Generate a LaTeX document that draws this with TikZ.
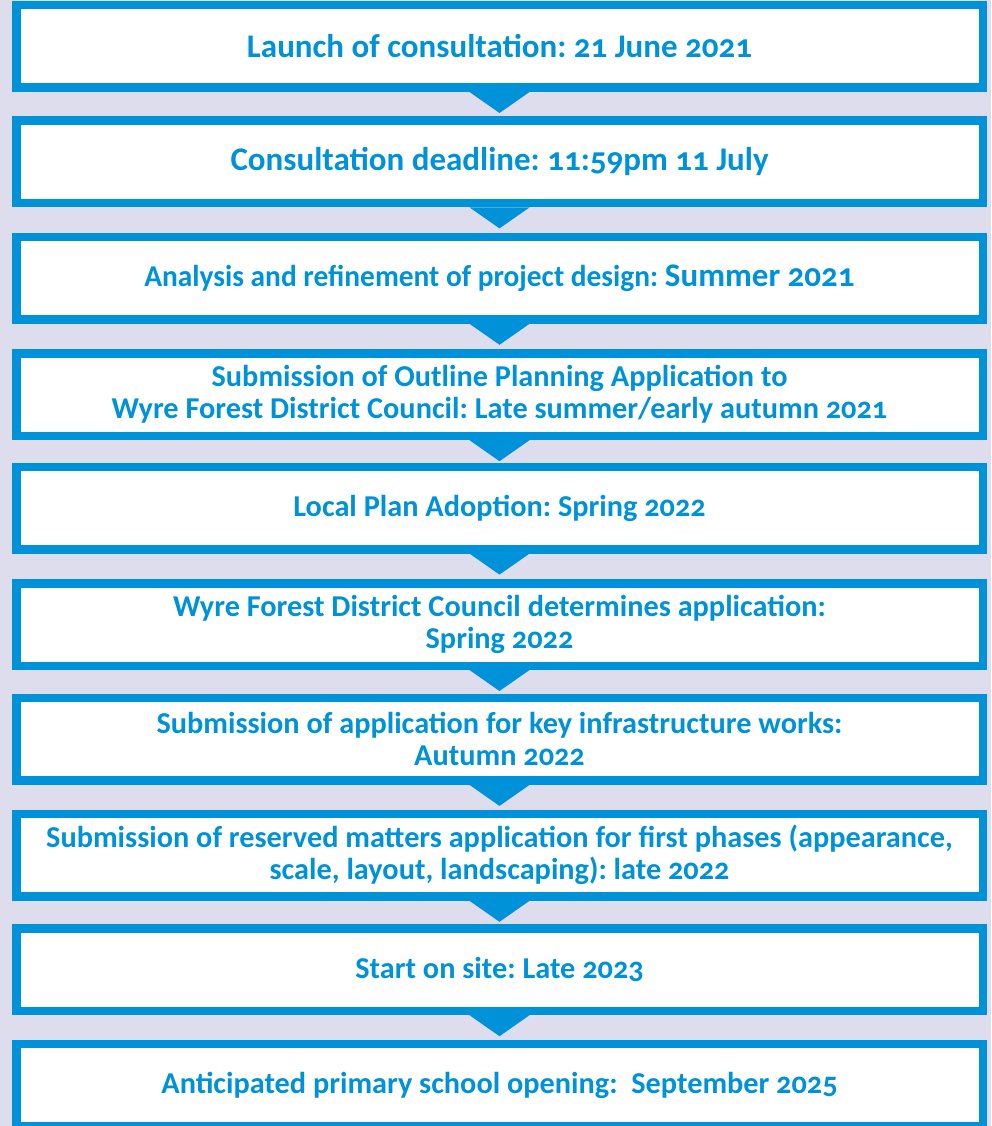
\documentclass[tikz,border=0pt]{standalone}
\usepackage{fontspec}
\setmainfont{Carlito}[Numbers=OldStyle]
\usetikzlibrary{calc}
\frenchspacing
\definecolor{flowblue}{RGB}{0,146,216}
\definecolor{flowback}{RGB}{221,221,238}
\tikzset{
  stagebox/.style={draw=flowblue, line width=8.5pt, fill=white, text=flowblue,
    minimum width=966.5pt, minimum height=82.5pt, align=center, inner sep=0pt,
    font=\bfseries\fontsize{30.3}{32}\selectfont},
  bigtext/.style={font=\bfseries\fontsize{33}{34}\selectfont},
  pointer/.style={fill=flowblue}
}
\begin{document}
\begin{tikzpicture}[x=1pt,y=-1pt]
                \fill[flowback] (0,0) rectangle (991,1126);
                \useasboundingbox (0,0) rectangle (991,1126);

                \coordinate (C1) at (499.5,46.5);
                \coordinate (C2) at (499.5,161.9);
                \coordinate (C3) at (499.5,278.3);
                \coordinate (C4) at (499.5,394.7);
                \coordinate (C5) at (499.5,508.1);
                \coordinate (C6) at (499.5,624.5);
                \coordinate (C7) at (499.5,739.4);
                \coordinate (C8) at (499.5,855.3);
                \coordinate (C9) at (499.5,969.7);
                \coordinate (C10) at (499.5,1085.1);

                \node[stagebox, bigtext] (b1) at (C1) {Launch of consultation: 21 June 2021};
                \node[stagebox, bigtext] (b2) at (C2) {Consultation deadline: 11:59pm 11 July};
                \node[stagebox] (b3) at (C3) {\scalebox{0.97}[1]{Analysis and refinement of project design:} {\fontsize{33}{34}\selectfont Summer 2021}};
                \node[stagebox] (b4) at (C4) {Submission of Outline Planning Application to\\Wyre Forest District Council: Late summer/early autumn 2021};
                \node[stagebox] (b5) at (C5) {Local Plan Adoption: Spring 2022};
                \node[stagebox] (b6) at (C6) {Wyre Forest District Council determines application:\\Spring 2022};
                \node[stagebox] (b7) at (C7) {Submission of application for key infrastructure works:\\Autumn 2022};
                \node[stagebox] (b8) at (C8) {Submission of reserved matters application for first phases (appearance,\\scale, layout, landscaping): late 2022};
                \node[stagebox] (b9) at (C9) {Start on site: Late 2023};
                \node[stagebox] (b10) at (C10) {Anticipated primary school opening:\ \ September 2025};

                \fill[pointer] ($(b1.south)+(-30,0)$) -- ($(b1.south)+(30,0)$) -- ($(b1.south)+(0,21)$) -- cycle;
                \fill[pointer] ($(b2.south)+(-30,0)$) -- ($(b2.south)+(30,0)$) -- ($(b2.south)+(0,21)$) -- cycle;
                \fill[pointer] ($(b3.south)+(-30,0)$) -- ($(b3.south)+(30,0)$) -- ($(b3.south)+(0,21)$) -- cycle;
                \fill[pointer] ($(b4.south)+(-30,0)$) -- ($(b4.south)+(30,0)$) -- ($(b4.south)+(0,21)$) -- cycle;
                \fill[pointer] ($(b5.south)+(-30,0)$) -- ($(b5.south)+(30,0)$) -- ($(b5.south)+(0,21)$) -- cycle;
                \fill[pointer] ($(b6.south)+(-30,0)$) -- ($(b6.south)+(30,0)$) -- ($(b6.south)+(0,21)$) -- cycle;
                \fill[pointer] ($(b7.south)+(-30,0)$) -- ($(b7.south)+(30,0)$) -- ($(b7.south)+(0,21)$) -- cycle;
                \fill[pointer] ($(b8.south)+(-30,0)$) -- ($(b8.south)+(30,0)$) -- ($(b8.south)+(0,21)$) -- cycle;
                \fill[pointer] ($(b9.south)+(-30,0)$) -- ($(b9.south)+(30,0)$) -- ($(b9.south)+(0,21)$) -- cycle;
            \end{tikzpicture}
\end{document}
